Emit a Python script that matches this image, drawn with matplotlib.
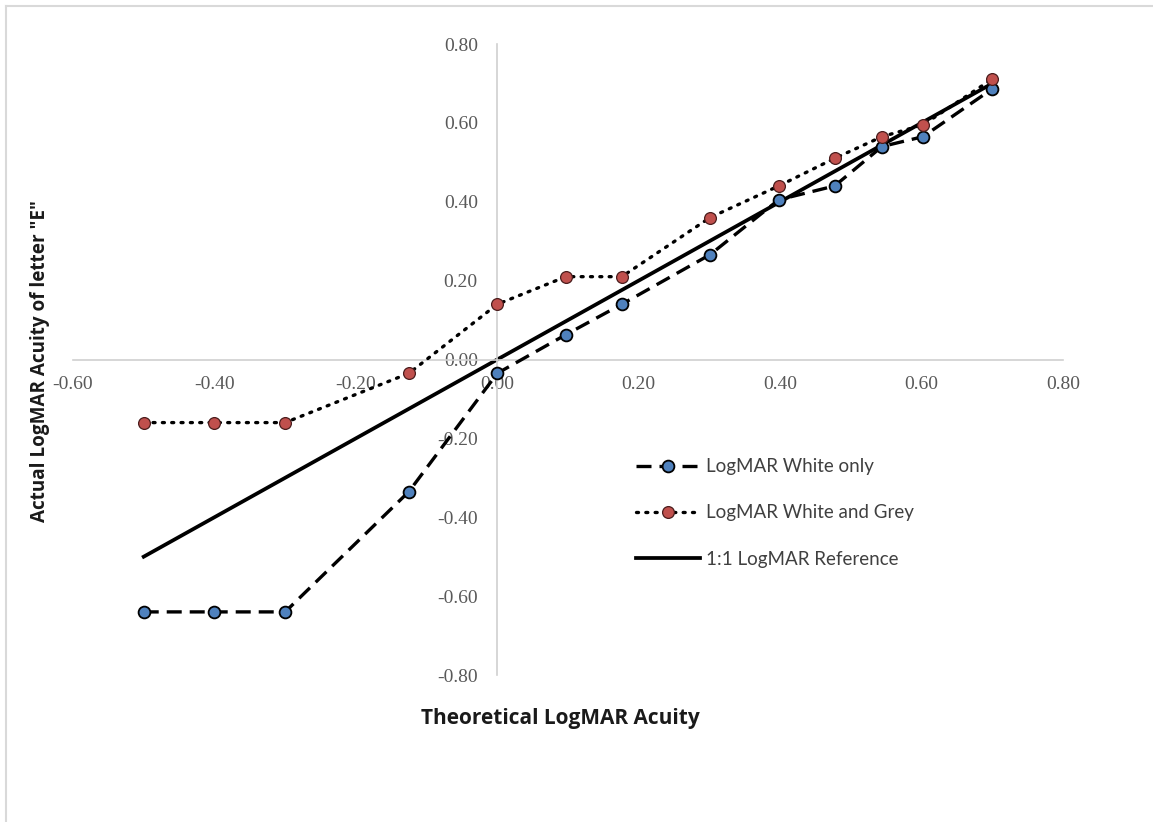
import numpy as np
import matplotlib.pyplot as plt
from matplotlib.lines import Line2D

# Theoretical LogMAR acuity (x) for each chart line
theoretical = [-0.5, -0.4, -0.3, -0.125, 0.0, 0.097, 0.176, 0.301, 0.398, 0.477, 0.544, 0.602, 0.699]

# Measured acuity for letter "E"
white_only = [-0.64, -0.64, -0.64, -0.335, -0.035, 0.063, 0.14, 0.266, 0.405, 0.44, 0.54, 0.565, 0.685]
white_grey = [-0.16, -0.16, -0.16, -0.035, 0.14, 0.21, 0.21, 0.36, 0.44, 0.51, 0.565, 0.595, 0.71]

# 1:1 reference
ref_x = [-0.5, 0.7]
ref_y = [-0.5, 0.7]

tick_vals = [-0.8, -0.6, -0.4, -0.2, 0.0, 0.2, 0.4, 0.6, 0.8]

fig = plt.figure(figsize=(11.53, 8.22), dpi=100)
ax = fig.add_axes([73 / 1153, 1 - 675 / 822, 990 / 1153, 631 / 822])

blue = '#4f81bd'
red = '#c0504d'

ax.plot(theoretical, white_only, color='black', lw=2.4, dashes=(4.5, 2.4),
        marker='o', ms=8.5, mfc=blue, mec='black', mew=1.3, label='LogMAR White only', zorder=3)
ax.plot(theoretical, white_grey, color='black', lw=2.4, dashes=(0.6, 2.2),
        dash_capstyle='round', marker='o', ms=8.5, mfc=red, mec='#4a1c1c', mew=0.9,
        label='LogMAR White and Grey', zorder=3)
ax.plot(ref_x, ref_y, color='black', lw=2.7, label='1:1 LogMAR Reference', zorder=2)

ax.set_xlim(-0.6, 0.8)
ax.set_ylim(-0.8, 0.8)

# axes cross at zero
for side in ['top', 'right']:
    ax.spines[side].set_visible(False)
ax.spines['left'].set_position(('data', 0))
ax.spines['bottom'].set_position(('data', 0))
ax.spines['left'].set_color('#d0d0d0')
ax.spines['bottom'].set_color('#d0d0d0')
ax.spines['left'].set_linewidth(1.2)
ax.spines['bottom'].set_linewidth(1.2)

ax.set_xticks(tick_vals[1:])
ax.set_yticks(tick_vals)
ax.set_xticklabels([f'{v:.2f}' for v in tick_vals[1:]])
ax.set_yticklabels([f'{v:.2f}' if v != 0 else '0.00' for v in tick_vals])
ax.tick_params(length=0, labelsize=14, labelcolor='#595959', pad=12)
ax.tick_params(axis='y', pad=14)
for lab in ax.get_xticklabels() + ax.get_yticklabels():
    lab.set_fontfamily('Liberation Serif')

fig.text(560 / 1153, 1 - 718 / 822, 'Theoretical LogMAR Acuity', ha='center', va='center',
         fontsize=15, fontweight='bold', family='Open Sans', color='#1a1a1a')
fig.text(40 / 1153, 1 - 361 / 822, 'Actual LogMAR Acuity of letter "E"', ha='center', va='center',
         rotation=90, fontsize=13.6, fontweight='bold', family='Open Sans', color='#1a1a1a')

leg = ax.legend(loc='upper left', bbox_to_anchor=(627 / 1153, 1 - 449 / 822),
                bbox_transform=fig.transFigure, frameon=False, fontsize=13.5,
                handlelength=3.4, labelspacing=1.55, handletextpad=0.3, borderpad=0)
for t in leg.get_texts():
    t.set_color('#404040')
    t.set_fontfamily('Lato')

# chart-area border (top and left visible)
fig.add_artist(Line2D([6 / 1153, 1], [1 - 6 / 822, 1 - 6 / 822], transform=fig.transFigure,
                      color='#d9d9d9', lw=1.5))
fig.add_artist(Line2D([6 / 1153, 6 / 1153], [0, 1 - 6 / 822], transform=fig.transFigure,
                      color='#d9d9d9', lw=1.5))

fig.savefig('out.png', dpi=100)
